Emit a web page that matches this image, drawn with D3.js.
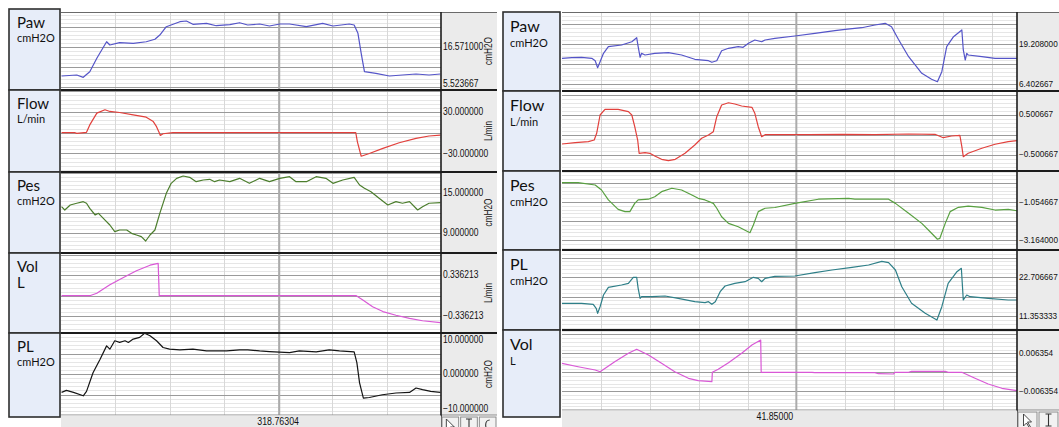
<!DOCTYPE html>
<html>
<head>
<meta charset="utf-8">
<script src="https://cdn.jsdelivr.net/npm/d3@7"></script>
<style>
  html, body { margin: 0; padding: 0; background: #fff; }
  svg { display: block; }
  .num { font-family: "Liberation Sans", Arial, sans-serif; font-size: 10px; fill: #111; }
  .ttl { font-family: Lato, "Open Sans", sans-serif; fill: #111; }
</style>
</head>
<body>
<svg id="chart" width="1059" height="427"></svg>
<script>
// ── Data: [time in grid units, value] ──
const leftCursorLabel = '318.76304';
const rightCursorLabel = '41.85000';

const leftPaw = [[0.01,8.56],[0.29,8.84],[0.41,8.20],[0.53,9.75],[0.66,13.45],[0.84,18.03],[0.90,17.12],[1.08,17.76],[1.33,17.59],[1.57,18.03],[1.73,18.70],[1.82,19.88],[1.94,22.18],[2.19,23.56],[2.31,23.75],[2.43,22.84],[2.68,23.12],[2.86,22.45],[3.11,22.73],[3.29,23.28],[3.44,22.65],[3.66,22.92],[3.84,22.37],[4.03,22.92],[4.21,22.92],[4.52,22.18],[4.82,23.12],[5.01,22.37],[5.31,22.92],[5.40,22.65],[5.47,20.35],[5.53,14.83],[5.59,9.75],[5.80,9.31],[6.05,8.56],[6.29,8.84],[6.54,9.11],[6.78,8.84],[6.99,9.11]];
const leftFlow = [[0.01,0],[0.26,0],[0.29,-1],[0.47,0.5],[0.53,11.3],[0.66,28.4],[0.81,33.2],[0.90,30.8],[1.08,29.3],[1.33,25.9],[1.57,22.5],[1.70,16.1],[1.76,8.8],[1.81,0],[1.83,-4],[1.88,-1.5],[2.06,0],[5.43,0],[5.46,-13.2],[5.53,-34.1],[5.68,-30.2],[5.93,-22.8],[6.23,-14.6],[6.54,-8.2],[6.78,-4.8],[6.99,-3.4]];
const leftPes = [[0.01,12.95],[0.07,12.45],[0.17,13.2],[0.29,13.46],[0.41,13.7],[0.47,13.46],[0.53,12.7],[0.63,11.7],[0.69,11.95],[0.78,11.2],[0.90,10.2],[0.99,9.2],[1.08,9.45],[1.21,9.45],[1.30,8.95],[1.39,8.7],[1.48,8.45],[1.56,7.8],[1.64,8.7],[1.73,9.45],[1.82,11.95],[1.94,14.95],[2.03,16.45],[2.13,17.2],[2.25,17.55],[2.37,17.35],[2.49,16.7],[2.62,16.95],[2.74,17.05],[2.83,16.7],[2.92,16.95],[3.11,16.7],[3.29,17.2],[3.47,16.45],[3.66,17.2],[3.84,16.7],[4.03,17.2],[4.21,17.45],[4.33,16.7],[4.52,16.7],[4.70,17.45],[4.88,17.2],[5.01,16.45],[5.19,16.95],[5.40,17.35],[5.50,16.2],[5.59,15.7],[5.71,15.2],[5.86,14.2],[6.02,13.2],[6.17,13.7],[6.29,13.46],[6.42,13.7],[6.57,12.45],[6.66,12.95],[6.78,13.46],[6.99,13.55]];
const leftVol = [[0.01,0],[0.53,0],[0.66,0.04],[0.90,0.18],[1.15,0.30],[1.39,0.41],[1.64,0.50],[1.79,0.53],[1.81,0],[5.44,0],[5.56,-0.07],[5.74,-0.18],[5.93,-0.26],[6.17,-0.32],[6.42,-0.37],[6.66,-0.41],[6.99,-0.44]];
const leftPL = [[0.01,-4.49],[0.10,-4.0],[0.23,-4.49],[0.41,-5.31],[0.47,-4.25],[0.59,0.30],[0.72,3.58],[0.84,6.86],[0.90,6.05],[0.99,8.10],[1.08,7.70],[1.18,8.10],[1.24,7.70],[1.33,8.52],[1.45,8.94],[1.54,9.93],[1.64,9.33],[1.76,8.10],[1.88,6.47],[2.00,6.05],[2.19,5.88],[2.43,6.05],[2.68,5.63],[3.05,5.63],[3.29,5.88],[3.44,5.88],[3.66,5.63],[3.84,5.48],[4.21,5.23],[4.39,5.63],[4.70,5.38],[4.94,5.88],[5.13,5.63],[5.40,5.38],[5.45,2.77],[5.50,-2.17],[5.57,-5.88],[5.68,-5.73],[5.92,-5.06],[6.17,-4.64],[6.42,-4.49],[6.54,-3.41],[6.66,-3.83],[6.81,-4.25],[6.99,-4.49]];

const rightPaw = [[0.2,14.63],[0.40,14.82],[0.60,14.95],[0.81,14.63],[0.88,13.86],[0.93,11.62],[0.98,13.54],[1.05,16.23],[1.15,18.34],[1.42,18.89],[1.63,19.94],[1.73,21.22],[1.76,18.34],[1.80,14.95],[1.83,16.23],[1.90,15.68],[2.10,16.23],[2.38,16.42],[2.65,15.68],[2.92,14.31],[3.20,13.86],[3.27,13.35],[3.37,13.86],[3.47,17.06],[3.61,17.83],[3.81,18.34],[3.91,18.15],[4.02,19.43],[4.15,20.49],[4.29,19.94],[4.36,20.49],[4.56,21.03],[4.97,21.77],[5.38,22.63],[5.79,23.46],[6.00,23.91],[6.34,24.42],[6.61,25.29],[6.82,25.83],[6.95,24.74],[7.09,20.71],[7.30,15.14],[7.57,9.83],[7.77,7.91],[7.89,7.14],[7.98,10.34],[8.08,18.34],[8.22,21.54],[8.39,23.69],[8.42,17.29],[8.46,14.08],[8.49,16.23],[8.52,15.68],[8.80,15.14],[9.07,14.63],[9.52,14.63]];
const rightFlow = [[0.2,-0.233],[0.47,-0.20],[0.74,-0.175],[0.86,-0.133],[0.91,0.035],[0.98,0.493],[1.08,0.636],[1.35,0.636],[1.56,0.576],[1.63,0.493],[1.69,0.20],[1.75,-0.133],[1.78,-0.466],[1.90,-0.45],[2.00,-0.466],[2.10,-0.533],[2.24,-0.616],[2.38,-0.651],[2.52,-0.616],[2.72,-0.466],[2.92,-0.258],[3.06,-0.09],[3.20,-0.008],[3.30,0.075],[3.37,0.45],[3.47,0.743],[3.61,0.80],[3.74,0.768],[3.88,0.718],[4.09,0.686],[4.15,0.536],[4.22,0.20],[4.29,-0.05],[4.36,0],[5.25,0],[5.93,0.01],[6.61,0],[7.30,0.018],[7.84,0.01],[8.01,-0.075],[8.18,-0.033],[8.35,-0.015],[8.39,-0.30],[8.42,-0.55],[8.52,-0.466],[8.80,-0.34],[9.07,-0.24],[9.34,-0.175],[9.52,-0.15]];
const rightPes = [[0.2,0.02],[0.53,0.02],[0.88,-0.11],[1.01,-0.39],[1.15,-0.94],[1.35,-1.46],[1.49,-1.59],[1.59,-1.59],[1.69,-1.13],[1.76,-0.94],[1.97,-0.90],[2.10,-0.76],[2.24,-0.48],[2.45,-0.29],[2.65,-0.39],[2.86,-0.67],[2.99,-0.85],[3.13,-0.94],[3.30,-1.13],[3.37,-1.40],[3.47,-1.87],[3.61,-2.24],[3.81,-2.43],[4.05,-2.76],[4.12,-2.33],[4.22,-1.59],[4.36,-1.40],[4.56,-1.36],[4.97,-1.13],[5.45,-0.90],[6.07,-0.85],[6.20,-0.90],[6.48,-0.90],[6.89,-0.90],[7.03,-1.13],[7.30,-1.68],[7.57,-2.24],[7.77,-2.79],[7.89,-3.12],[7.94,-3.07],[8.05,-2.24],[8.15,-1.59],[8.32,-1.35],[8.52,-1.28],[8.80,-1.35],[9.07,-1.50],[9.34,-1.46],[9.52,-1.54]];
const rightPL = [[0.2,15.05],[0.60,15.05],[0.84,14.76],[0.90,13.6],[0.93,12.14],[0.98,14.06],[1.05,17.47],[1.15,19.71],[1.42,20.38],[1.56,20.87],[1.66,22.62],[1.73,22.62],[1.76,19.42],[1.80,16.51],[1.83,16.97],[2.04,16.97],[2.31,17.18],[2.58,16.51],[2.92,15.52],[3.13,15.23],[3.20,15.52],[3.27,14.76],[3.34,15.52],[3.44,18.43],[3.54,20.09],[3.74,20.87],[3.95,21.34],[4.12,22.62],[4.22,22.33],[4.29,21.34],[4.36,22.33],[4.56,22.9],[4.97,23.0],[5.38,23.96],[5.73,24.75],[6.14,25.53],[6.48,26.2],[6.75,27.28],[6.89,26.87],[7.03,24.75],[7.16,19.88],[7.36,15.05],[7.64,12.14],[7.88,10.19],[7.98,14.06],[8.11,20.87],[8.29,24.25],[8.38,25.24],[8.42,16.01],[8.49,17.47],[8.56,16.97],[8.93,16.51],[9.34,16.01],[9.52,16.01]];
const rightVol = [[0.2,0.00301],[0.53,0.00187],[0.88,0.00077],[0.98,0.0002],[1.28,0.00354],[1.56,0.00635],[1.73,0.00769],[1.97,0.00579],[2.24,0.00301],[2.51,0.0002],[2.79,-0.00201],[2.99,-0.00281],[3.27,-0.00314],[3.28,0],[3.40,0.001],[3.61,0.00321],[3.88,0.00635],[4.09,0.00913],[4.27,0.0108],[4.28,0],[5.32,0],[5.38,-0.00013],[6.61,-0.00013],[6.68,-0.00047],[6.99,-0.00057],[7.02,0],[7.30,0],[7.36,0.00033],[8.05,0.00033],[8.11,0],[8.39,0],[8.66,-0.00201],[8.93,-0.00391],[9.21,-0.00535],[9.52,-0.00615]];

// Tick labels of the right-hand value axes
const leftPawTicks = [16.571, 5.523667];
const leftFlowTicks = [30, -30];
const leftPesTicks = [15, 9];
const leftVolTicks = [0.336213, -0.336213];
const leftPLTicks = [10, 0, -10];
const rightPawTicks = [19.208, 6.402667];
const rightFlowTicks = [0.500667, -0.500667];
const rightPesTicks = [-1.054667, -3.164];
const rightPLTicks = [22.706667, 11.353333];
const rightVolTicks = [0.006354, -0.006354];

// Colours
const BLUE = '#5454c8', RED = '#e2403c', MAGENTA = '#d958d6';

// ── Layout ──
const panels = [
  {
    plotX0: 61, plotX1: 441, axisX1: 497, labelX0: 9, labelX1: 60, labelTop: 9, labelBottom: 417,
    plotTop: 12, plotBottom: 415, stripBottom: 427, xDomain: [0, 7], gridT: d3.range(1, 7),
    cursorT: 4.02, cursorLabelT: 4.0, cursorLabel: leftCursorLabel, buttons: 3,
    numSize: 10, squeeze: 0.85,
    titleX: 17, titleDy: 19, unitDy: 33, titleSize: 15, unitSize: 11, rotUnits: true,
    rows: [
      { title: 'Paw', unit: 'cmH2O', top: 12, bottom: 90, domain: [4.695, 26.24], step: 5.523667, ticks: leftPawTicks, color: BLUE, data: leftPaw },
      { title: 'Flow', unit: 'L/min', top: 90, bottom: 172, domain: [-56.96, 61.9], step: 30, ticks: leftFlowTicks, color: RED, data: leftFlow },
      { title: 'Pes', unit: 'cmH2O', top: 172, bottom: 253, domain: [6.0, 18.15], step: 3, ticks: leftPesTicks, color: '#4b7d2c', data: leftPes },
      { title: 'Vol', unit: 'L', bigUnit: true, rotUnit: 'L/min', top: 253, bottom: 333, domain: [-0.611, 0.70], step: 0.336213, ticks: leftVolTicks, color: MAGENTA, data: leftVol },
      { title: 'PL', unit: 'cmH2O', top: 333, bottom: 415, domain: [-10, 10], step: 5, ticks: leftPLTicks, color: '#141414', data: leftPL }
    ]
  },
  {
    plotX0: 562, plotX1: 1017, axisX1: 1059, labelX0: 503, labelX1: 560, labelTop: 12, labelBottom: 417,
    plotTop: 12, plotBottom: 410, stripBottom: 427, xDomain: [0.2, 9.52], gridT: d3.range(1, 10),
    cursorT: 5.0, cursorLabelT: 4.56, cursorLabel: rightCursorLabel, buttons: 2,
    numSize: 8.2, squeeze: 1,
    titleX: 510, titleDy: 20, unitDy: 35, titleSize: 16, unitSize: 11, rotUnits: false,
    rows: [
      { title: 'Paw', unit: 'cmH2O', top: 12, bottom: 91, domain: [4.16, 29.45], step: 6.402667, ticks: rightPawTicks, color: BLUE, data: rightPaw },
      { title: 'Flow', unit: 'L/min', top: 91, bottom: 171, domain: [-0.909, 1.094], step: 0.500667, ticks: rightFlowTicks, color: RED, data: rightFlow },
      { title: 'Pes', unit: 'cmH2O', top: 171, bottom: 250, domain: [-3.718, 0.666], step: 1.054667, ticks: rightPesTicks, color: '#58a040', data: rightPes },
      { title: 'PL', unit: 'cmH2O', top: 250, bottom: 330, domain: [7.28, 30.57], step: 5.676667, ticks: rightPLTicks, color: '#2e7f88', data: rightPL },
      { title: 'Vol', unit: 'L', top: 330, bottom: 410, domain: [-0.01261, 0.01415], step: 0.006354, ticks: rightVolTicks, color: MAGENTA, data: rightVol }
    ]
  }
];

const svg = d3.select('#chart');
const fmt = d3.format('.6f');
const defs = svg.append('defs');

// squeeze the numeric labels a bit, the original font is narrow
function narrow(sel, k) {
  if (k === 1) return;
  sel.each(function() {
    const w = this.getComputedTextLength();
    d3.select(this).attr('textLength', w * k).attr('lengthAdjust', 'spacingAndGlyphs');
  });
}

panels.forEach((p, pi) => {
  const g = svg.append('g');
  const x = d3.scaleLinear().domain(p.xDomain).range([p.plotX0, p.plotX1]);
  const plotW = p.plotX1 - p.plotX0;

  // value-axis background
  g.append('rect')
    .attr('x', p.plotX1).attr('y', p.plotTop)
    .attr('width', p.axisX1 - p.plotX1).attr('height', p.plotBottom - p.plotTop)
    .attr('fill', '#ebebeb');

  p.rows.forEach((r, ri) => {
    const y = d3.scaleLinear().domain(r.domain).range([r.bottom, r.top]);
    const clipId = `clip-${pi}-${ri}`;
    defs.append('clipPath').attr('id', clipId)
      .append('rect').attr('x', p.plotX0).attr('y', r.top)
      .attr('width', plotW).attr('height', r.bottom - r.top);

    const rg = g.append('g').attr('clip-path', `url(#${clipId})`);

    // minor + major horizontal grid
    const minor = r.step / 5;
    const ks = d3.range(Math.ceil(r.domain[0] / minor), Math.floor(r.domain[1] / minor) + 1);
    rg.selectAll('line.minor')
      .data(ks.filter(k => k % 5 !== 0))
      .enter().append('line')
      .attr('x1', p.plotX0).attr('x2', p.axisX1)
      .attr('y1', k => Math.round(y(k * minor)) + 0.5).attr('y2', k => Math.round(y(k * minor)) + 0.5)
      .attr('stroke', '#e6e6e6').attr('stroke-width', 1);

    // vertical grid
    rg.selectAll('line.vgrid')
      .data(p.gridT)
      .enter().append('line')
      .attr('x1', d => Math.round(x(d)) + 0.5).attr('x2', d => Math.round(x(d)) + 0.5)
      .attr('y1', r.top).attr('y2', r.bottom)
      .attr('stroke', '#d8d8d8').attr('stroke-width', 1);

    rg.selectAll('line.major')
      .data(ks.filter(k => k % 5 === 0))
      .enter().append('line')
      .attr('x1', p.plotX0).attr('x2', p.plotX1)
      .attr('y1', k => Math.round(y(k * minor)) + 0.5).attr('y2', k => Math.round(y(k * minor)) + 0.5)
      .attr('stroke', '#9a9a9a').attr('stroke-width', 1);

    // cursor
    rg.append('line')
      .attr('x1', x(p.cursorT)).attr('x2', x(p.cursorT))
      .attr('y1', r.top).attr('y2', r.bottom)
      .attr('stroke', '#ababab').attr('stroke-width', 2);

    // trace
    const line = d3.line().x(d => x(d[0])).y(d => y(d[1]));
    rg.append('path')
      .datum(r.data)
      .attr('d', line)
      .attr('fill', 'none')
      .attr('stroke', r.color)
      .attr('stroke-width', 1.2)
      .attr('stroke-linejoin', 'round');

    // value axis labels
    const ax = g.append('g')
      .attr('transform', `translate(${p.plotX1},0)`)
      .call(d3.axisRight(y).tickValues(r.ticks).tickFormat(fmt).tickSize(0).tickPadding(2));
    ax.select('.domain').remove();
    ax.selectAll('.tick')
      .attr('transform', d => `translate(0,${Math.max(r.top + 7, Math.min(r.bottom - 6, y(d)))})`);
    ax.selectAll('text')
      .attr('class', 'num')
      .attr('fill', '#111')
      .style('font-family', '"Liberation Sans", Arial, sans-serif')
      .style('font-size', p.numSize + 'px');
    narrow(ax.selectAll('text'), p.squeeze);

    if (p.rotUnits) {
      const ut = g.append('text')
        .attr('class', 'num')
        .attr('transform', `translate(${p.plotX1 + 51},${(r.top + r.bottom) / 2}) rotate(-90)`)
        .attr('text-anchor', 'middle')
        .style('font-size', '10px')
        .text(r.rotUnit || r.unit);
      narrow(ut, 0.82);
    }

    // label box
    const bTop = ri === 0 ? p.labelTop : r.top;
    const bBot = ri === p.rows.length - 1 ? p.labelBottom : r.bottom;
    g.append('rect')
      .attr('x', p.labelX0).attr('y', bTop)
      .attr('width', p.labelX1 - p.labelX0).attr('height', bBot - bTop)
      .attr('fill', '#e7edf9').attr('stroke', '#2e2e2e').attr('stroke-width', 1.6);
    g.append('text')
      .attr('class', 'ttl')
      .attr('x', p.titleX).attr('y', bTop + p.titleDy)
      .style('font-size', p.titleSize + 'px')
      .text(r.title);
    g.append('text')
      .attr('class', 'ttl')
      .attr('x', p.titleX).attr('y', bTop + p.unitDy + (r.bigUnit ? 2 : 0))
      .style('font-size', (r.bigUnit ? p.titleSize : p.unitSize) + 'px')
      .text(r.unit);

    // row separator
    if (ri > 0) {
      g.append('line')
        .attr('x1', p.plotX0).attr('x2', p.axisX1)
        .attr('y1', r.top).attr('y2', r.top)
        .attr('stroke', '#1c1c1c').attr('stroke-width', 2);
    }
  });

  // plot frame
  g.append('line')
    .attr('x1', p.plotX0).attr('x2', p.axisX1)
    .attr('y1', p.plotTop + 0.5).attr('y2', p.plotTop + 0.5)
    .attr('stroke', '#6a6a6a').attr('stroke-width', 1);
  g.append('line')
    .attr('x1', p.plotX0).attr('x2', p.axisX1)
    .attr('y1', p.plotBottom).attr('y2', p.plotBottom)
    .attr('stroke', '#8a8a8a').attr('stroke-width', 1);
  g.append('line')
    .attr('x1', p.plotX1).attr('x2', p.plotX1)
    .attr('y1', p.plotTop).attr('y2', p.stripBottom)
    .attr('stroke', '#1c1c1c').attr('stroke-width', 1.6);

  // time strip with cursor readout
  g.append('rect')
    .attr('x', p.plotX0).attr('y', p.plotBottom + 0.5)
    .attr('width', plotW).attr('height', p.stripBottom - p.plotBottom)
    .attr('fill', '#e9e9e9');
  const ct = g.append('text')
    .attr('class', 'num')
    .attr('x', x(p.cursorLabelT)).attr('y', p.plotBottom + 10)
    .attr('text-anchor', 'middle')
    .style('font-size', '10px')
    .text(p.cursorLabel);
  narrow(ct, 0.88);

  // tool buttons
  const bw = (p.axisX1 - p.plotX1) / p.buttons;
  d3.range(p.buttons).forEach(i => {
    const bx = p.plotX1 + i * bw;
    g.append('rect')
      .attr('x', bx + 1).attr('y', p.plotBottom + 2)
      .attr('width', bw - 2).attr('height', p.stripBottom - p.plotBottom)
      .attr('fill', '#f2f2f2').attr('stroke', '#8a8a8a');
    const cx = bx + bw / 2, top = p.plotBottom + 4;
    if (i === 0) {
      g.append('path')
        .attr('d', `M${cx - 4},${top} L${cx - 4},${top + 12} L${cx - 1},${top + 9} L${cx + 2},${top + 14} L${cx + 3},${top + 13} L${cx},${top + 8} L${cx + 4},${top + 8} Z`)
        .attr('fill', '#fff').attr('stroke', '#333').attr('stroke-width', 0.9);
    } else if (i === 1) {
      g.append('path')
        .attr('d', `M${cx - 3},${top} H${cx + 3} M${cx},${top} V${top + 12} M${cx - 3},${top + 12} H${cx + 3}`)
        .attr('stroke', '#333').attr('stroke-width', 1.1).attr('fill', 'none');
    } else {
      g.append('path')
        .attr('d', `M${cx + 2},${top + 1} A4,5 0 1,0 ${cx + 2},${top + 11}`)
        .attr('stroke', '#333').attr('stroke-width', 1.1).attr('fill', 'none');
    }
  });
});
</script>
</body>
</html>
